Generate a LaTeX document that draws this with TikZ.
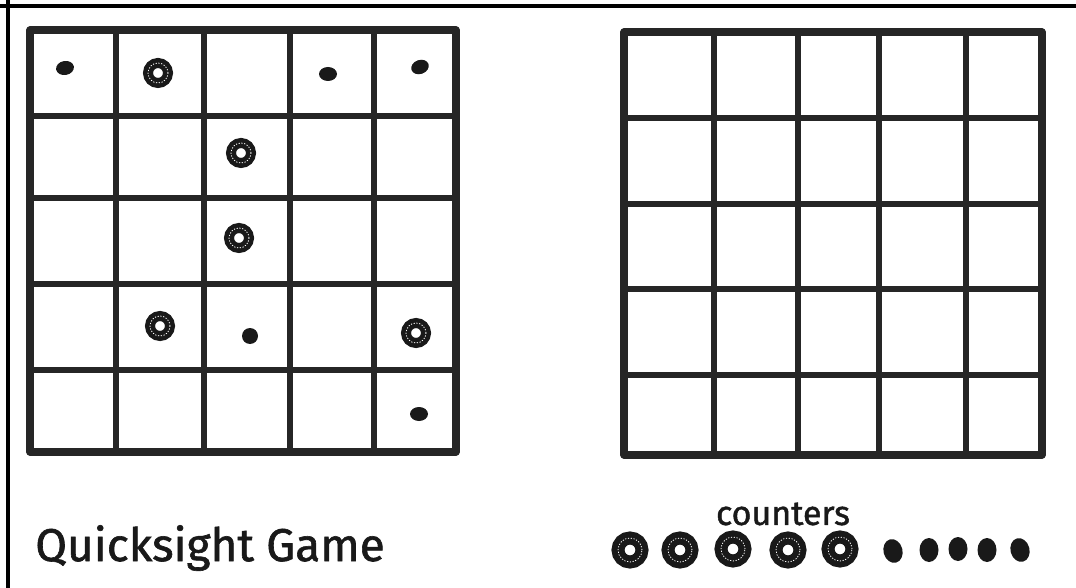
\documentclass[tikz,border=0pt]{standalone}
\usepackage{fontspec}
\newfontfamily\handfont[FakeBold=1.3]{Fira Sans}
\usetikzlibrary{shapes.geometric, positioning}
\begin{document}
\begin{tikzpicture}[x=0.5pt, y=-0.5pt,
  frameline/.style={line width=2.2pt, black},
  gridline/.style={line width=2.6pt, black!85, line cap=round},
  boardedge/.style={line width=3.6pt, black!85, line join=round},
  ring/.style={circle, draw=black!90, line width=5pt, minimum size=10pt, inner sep=0pt,
    postaction={draw=white, line width=0.4pt, dash pattern=on 0.6pt off 0.8pt}},
  bigring/.style={ring, line width=6.5pt, minimum size=12pt},
  dot/.style={ellipse, fill=black!90, minimum width=9pt, minimum height=7pt, inner sep=0pt},
  bigdot/.style={ellipse, fill=black!90, minimum width=9.5pt, minimum height=12pt, inner sep=0pt},
  label/.style={inner sep=0pt, text=black!90}
]
  \useasboundingbox (0,0) rectangle (1076,588);

  % frame
  \draw[frameline] (0,6) -- (1076,6);
  \draw[frameline] (8,0) -- (8,588);

  % game board
  \foreach \x in {116,204,290,374} \draw[gridline] (\x,30) -- (\x,452);
  \foreach \y in {116,198,284,370} \draw[gridline] (30,\y) -- (456,\y);
  \draw[boardedge] (30,30) rectangle (456,452);

  % empty board
  \foreach \x in {714,798,879,966} \draw[gridline] (\x,32) -- (\x,455);
  \foreach \y in {118,204,289,375} \draw[gridline] (624,\y) -- (1042,\y);
  \draw[boardedge] (624,32) rectangle (1042,455);

  % counters on the game board
  \node[dot, rotate=10] (d1) at (65,68) {};
  \node[ring] (r1) at (158,73) {};
  \node[dot] (d2) at (328,74) {};
  \node[dot, rotate=20] (d3) at (420,67) {};
  \node[ring] (r2) at (241,153) {};
  \node[ring] (r3) at (239,238) {};
  \node[ring] (r4) at (160,326) {};
  \node[dot, minimum width=8pt, minimum height=8pt] (d4) at (250,336) {};
  \node[ring] (r5) at (416,333) {};
  \node[dot] (d5) at (419,414) {};

  % spare counters
  \node[bigring] (c1) at (630,550) {};
  \node[bigring] (c2) at (680,550) {};
  \node[bigring] (c3) at (733,549) {};
  \node[bigring] (c4) at (788,550) {};
  \node[bigring] (c5) at (840,549) {};
  \node[bigdot, rotate=15] (p1) at (893,551) {};
  \node[bigdot] (p2) at (929,550) {};
  \node[bigdot] (p3) at (958,549) {};
  \node[bigdot] (p4) at (987,550) {};
  \node[bigdot, rotate=15] (p5) at (1020,550) {};

  \node[label, font=\handfont\fontsize{17}{17}\selectfont] (cnt) at (783,514) {counters};
  \node[label, font=\handfont\fontsize{23}{23}\selectfont] (title) at (210,548) {Quicksight Game};
\end{tikzpicture}
\end{document}
